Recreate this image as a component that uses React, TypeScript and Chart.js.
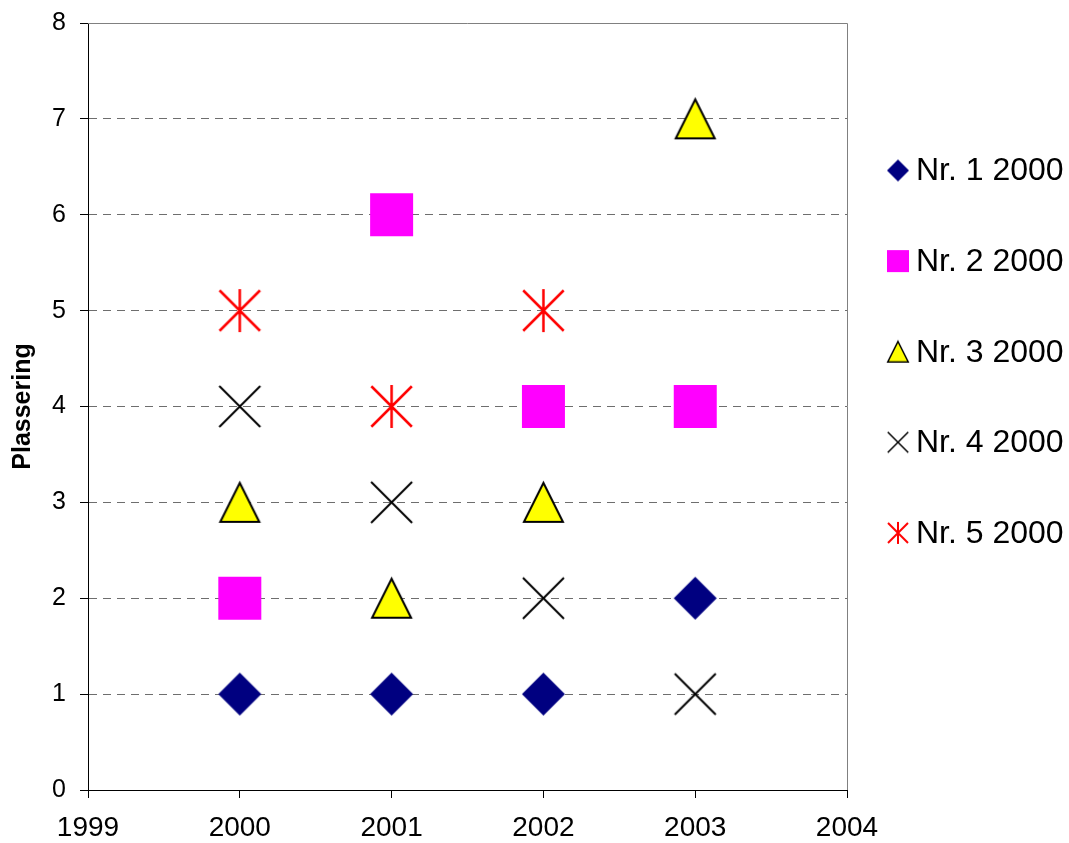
import React, { useEffect, useRef } from "react";
import { Chart, registerables } from "chart.js";

Chart.register(...registerables);

const years = [2000, 2001, 2002, 2003];
const xTicks = [1999, 2000, 2001, 2002, 2003, 2004];
const yTicks = [0, 1, 2, 3, 4, 5, 6, 7, 8];
const seriesLabels = ["Nr. 1 2000", "Nr. 2 2000", "Nr. 3 2000", "Nr. 4 2000", "Nr. 5 2000"];
const nr1 = [1, 1, 1, 2];
const nr2 = [2, 6, 4, 4];
const nr3 = [3, 2, 3, 7];
const nr4 = [4, 3, 2, 1];
const nr5: (number | null)[] = [5, 4, 5, null];
const yTitle = "Plassering";

const FONT = "'Liberation Sans', Arial, sans-serif";

type Kind = "diamond" | "square" | "triangle" | "x" | "star";
const kinds: Kind[] = ["diamond", "square", "triangle", "x", "star"];

function makeMarker(kind: Kind, s: number, lw: number): HTMLCanvasElement {
  const size = Math.ceil(s) + 8;
  const cv = document.createElement("canvas");
  cv.width = size;
  cv.height = size;
  const ctx = cv.getContext("2d")!;
  const c = size / 2;
  const h = s / 2;
  ctx.lineJoin = "miter";
  if (kind === "diamond") {
    ctx.fillStyle = "#000080";
    ctx.beginPath();
    ctx.moveTo(c, c - h);
    ctx.lineTo(c + h, c);
    ctx.lineTo(c, c + h);
    ctx.lineTo(c - h, c);
    ctx.closePath();
    ctx.fill();
  } else if (kind === "square") {
    ctx.fillStyle = "#FF00FF";
    ctx.fillRect(c - h, c - h, s, s);
  } else if (kind === "triangle") {
    const t = h - lw / 2;
    ctx.fillStyle = "#FFFF00";
    ctx.strokeStyle = "#000000";
    ctx.lineWidth = lw;
    ctx.beginPath();
    ctx.moveTo(c, c - t);
    ctx.lineTo(c + t, c + t);
    ctx.lineTo(c - t, c + t);
    ctx.closePath();
    ctx.fill();
    ctx.stroke();
  } else if (kind === "x" || kind === "star") {
    const t = h - lw / 2;
    ctx.strokeStyle = kind === "x" ? "#000000" : "#FF0000";
    ctx.lineWidth = lw;
    ctx.lineCap = "butt";
    ctx.beginPath();
    ctx.moveTo(c - t, c - t);
    ctx.lineTo(c + t, c + t);
    ctx.moveTo(c + t, c - t);
    ctx.lineTo(c - t, c + t);
    if (kind === "star") {
      ctx.moveTo(c, c - h);
      ctx.lineTo(c, c + h);
    }
    ctx.stroke();
  }
  return cv;
}

export default function App() {
  const ref = useRef<HTMLCanvasElement | null>(null);

  useEffect(() => {
    if (!ref.current) return;
    const seriesValues = [nr1, nr2, nr3, nr4, nr5];
    const bigSizes = [43, 43, 41, 43, 43];
    const bigLw = [0, 0, 2, 2, 2.5];
    const smallLw = [0, 0, 1.5, 1.5, 2];
    const big = kinds.map((k, i) => makeMarker(k, bigSizes[i], bigLw[i]));
    const small = kinds.map((k, i) => makeMarker(k, 22, smallLw[i]));

    const datasets = seriesValues.map((vals, i) => ({
      label: seriesLabels[i],
      data: years
        .map((yr, j) => ({ x: yr, y: vals[j] }))
        .filter((p) => p.y !== null && p.y !== undefined),
      pointStyle: big[i] as any,
      showLine: false,
    }));

    const framePlugin = {
      id: "frame",
      beforeDatasetsDraw(chart: any) {
        const { ctx, chartArea } = chart;
        ctx.save();
        ctx.strokeStyle = "#808080";
        ctx.lineWidth = 1;
        ctx.beginPath();
        ctx.moveTo(chartArea.left, Math.round(chartArea.top) + 0.5);
        ctx.lineTo(Math.round(chartArea.right) + 0.5, Math.round(chartArea.top) + 0.5);
        ctx.lineTo(Math.round(chartArea.right) + 0.5, chartArea.bottom);
        ctx.stroke();
        ctx.restore();
      },
    };

    const legendPlugin = {
      id: "customLegend",
      afterDraw(chart: any) {
        const { ctx } = chart;
        ctx.save();
        ctx.font = `32px ${FONT}`;
        ctx.fillStyle = "#000000";
        ctx.textBaseline = "middle";
        ctx.textAlign = "left";
        chart.data.datasets.forEach((ds: any, i: number) => {
          const cy = 170.5 + i * 90.6;
          const img = small[i];
          ctx.drawImage(img, 898 - img.width / 2, cy - img.height / 2);
          ctx.fillText(ds.label, 916, cy + 1);
        });
        ctx.restore();
      },
    };

    const chart = new Chart(ref.current, {
      type: "scatter",
      data: { datasets },
      options: {
        animation: false,
        responsive: false,
        events: [],
        layout: { padding: { top: 23, right: 222, bottom: 0, left: 0 } },
        plugins: {
          legend: { display: false },
          tooltip: { enabled: false },
        },
        scales: {
          x: {
            type: "linear",
            min: xTicks[0],
            max: xTicks[xTicks.length - 1],
            afterBuildTicks: (scale: any) => {
              scale.ticks = xTicks.map((v) => ({ value: v }));
            },
            afterFit: (scale: any) => {
              scale.height = 53;
              scale.paddingLeft = 0;
              scale.paddingRight = 0;
            },
            ticks: {
              callback: (v: any) => String(v),
              color: "#000000",
              font: { family: FONT, size: 28 },
              padding: 13,
              maxRotation: 0,
              autoSkip: false,
            },
            grid: {
              drawOnChartArea: false,
              drawTicks: true,
              tickLength: 8,
              tickColor: "#000000",
              tickWidth: 1,
            },
            border: { display: true, color: "#000000", width: 1 },
          },
          y: {
            type: "linear",
            min: yTicks[0],
            max: yTicks[yTicks.length - 1],
            afterBuildTicks: (scale: any) => {
              scale.ticks = yTicks.map((v) => ({ value: v }));
            },
            afterFit: (scale: any) => {
              scale.width = 88;
              scale.paddingTop = 0;
              scale.paddingBottom = 0;
            },
            ticks: {
              color: "#000000",
              font: { family: FONT, size: 25 },
              padding: 14,
              autoSkip: false,
            },
            title: {
              display: true,
              text: yTitle,
              color: "#000000",
              font: { family: FONT, size: 25, weight: "bold" },
              padding: { top: 8, bottom: 0 },
            },
            grid: {
              drawOnChartArea: true,
              drawTicks: true,
              tickLength: 8,
              tickColor: "#000000",
              tickWidth: 1,
              tickBorderDash: [],
              lineWidth: 1,
              color: (ctx: any) => {
                const v = ctx.tick ? ctx.tick.value : null;
                return v === 0 || v === 8 ? "rgba(0,0,0,0)" : "#6e6e6e";
              },
            },
            border: { display: true, color: "#000000", width: 1, dash: [8, 6] },
          },
        },
      },
      plugins: [framePlugin, legendPlugin],
    } as any);

    return () => chart.destroy();
  }, []);

  return (
    <div style={{ position: "absolute", left: 0, top: 0, width: 1069, height: 843, background: "#ffffff" }}>
      <canvas ref={ref} width={1069} height={843} style={{ width: 1069, height: 843, display: "block" }} />
    </div>
  );
}
